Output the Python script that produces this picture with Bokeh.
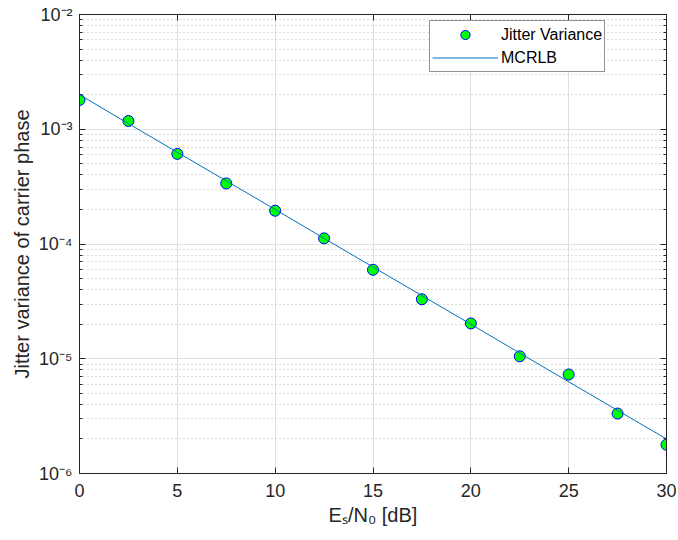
import math
from bokeh.plotting import figure
from bokeh.models import (Range1d, FixedTicker, LinearAxis, LogAxis,
                          Legend, LegendItem, CustomJSTickFormatter)
from bokeh.embed import file_html
from bokeh.resources import INLINE

# ---- data ----
snr_db = [0, 2.5, 5, 7.5, 10, 12.5, 15, 17.5, 20, 22.5, 25, 27.5, 30]
jitter_variance = [1.80e-3, 1.18e-3, 6.1e-4, 3.37e-4, 1.95e-4, 1.12e-4, 5.96e-5,
                   3.30e-5, 2.03e-5, 1.05e-5, 7.29e-6, 3.33e-6, 1.78e-6]
mcrlb = [2.0e-3, 1.12e-3, 6.3e-4, 3.55e-4, 2.0e-4, 1.12e-4, 6.3e-5,
         3.55e-5, 2.0e-5, 1.12e-5, 6.3e-6, 3.55e-6, 2.0e-6]
x_ticks = [0, 5, 10, 15, 20, 25, 30]
y_tick_exponents = [-6, -5, -4, -3, -2]

FONT = "Liberation Sans"
AX = "#262626"

y_major = [10.0 ** e for e in y_tick_exponents]
y_minor = [m * 10.0 ** e for e in y_tick_exponents[:-1] for m in range(2, 10)]

W, H = 678, 540
p = figure(width=W, height=H, x_range=Range1d(0, 30),
           y_range=Range1d(1e-6, 1e-2), y_axis_type="log",
           output_backend="svg", toolbar_location=None,
           min_border_left=79, min_border_right=12, min_border_top=14,
           min_border_bottom=67)
p.background_fill_color = "white"
p.border_fill_color = "white"
p.outline_line_color = AX
p.outline_line_width = 1

xt = FixedTicker(ticks=x_ticks, minor_ticks=[])
yt = FixedTicker(ticks=y_major, minor_ticks=y_minor)
blank = CustomJSTickFormatter(code="return ' '")
pow10 = CustomJSTickFormatter(code="""
const sup = {'-': '\\u207B', '0': '\\u2070', '1': '\\u00B9', '2': '\\u00B2',
             '3': '\\u00B3', '4': '\\u2074', '5': '\\u2075', '6': '\\u2076',
             '7': '\\u2077', '8': '\\u2078', '9': '\\u2079'};
const e = Math.round(Math.log10(tick));
return '10' + String(e).split('').map(c => sup[c]).join('');
""")

# bottom axis
xa = p.xaxis[0]
xa.ticker = xt
xa.axis_line_color = AX
xa.major_tick_line_color = AX
xa.major_tick_in = 6
xa.major_tick_out = 0
xa.minor_tick_line_color = None
xa.major_label_text_font = FONT
xa.major_label_text_font_size = "18px"
xa.major_label_text_color = AX
xa.major_label_standoff = 10
xa.axis_label = "E\u209B/N\u2080 [dB]"
xa.axis_label_text_font = FONT
xa.axis_label_text_font_size = "20px"
xa.axis_label_text_font_style = "normal"
xa.axis_label_text_color = AX
xa.axis_label_standoff = 4

# left axis
ya = p.yaxis[0]
ya.ticker = yt
ya.formatter = pow10
ya.axis_line_color = AX
ya.major_tick_line_color = AX
ya.minor_tick_line_color = AX
ya.major_tick_in = 6
ya.major_tick_out = 0
ya.minor_tick_in = 3
ya.minor_tick_out = 0
ya.major_label_text_font = FONT
ya.major_label_text_font_size = "18px"
ya.major_label_text_color = AX
ya.major_label_standoff = 7
ya.axis_label = "Jitter variance of carrier phase"
ya.axis_label_text_font = FONT
ya.axis_label_text_font_size = "20px"
ya.axis_label_text_font_style = "normal"
ya.axis_label_text_color = AX
ya.axis_label_standoff = 3

# top / right axes for box ticks
top = LinearAxis(ticker=xt, formatter=blank, axis_line_color=AX,
                 major_tick_line_color=AX, major_tick_in=6, major_tick_out=0,
                 minor_tick_line_color=None, major_label_text_font_size="2px",
                 major_label_text_color=None, major_label_standoff=0)
right = LogAxis(ticker=yt, formatter=blank, axis_line_color=AX,
                major_tick_line_color=AX, minor_tick_line_color=AX,
                major_tick_in=6, major_tick_out=0, minor_tick_in=3,
                minor_tick_out=0, major_label_text_font_size="2px",
                major_label_text_color=None, major_label_standoff=0)
p.add_layout(top, "above")
p.add_layout(right, "right")

# grids
p.xgrid.ticker = xt
p.xgrid.grid_line_color = "#e0e0e0"
p.ygrid.ticker = yt
p.ygrid.grid_line_color = "#e0e0e0"
p.ygrid.minor_grid_line_color = "#b8b8b8"
p.ygrid.minor_grid_line_dash = "1 3"

# data
r_pts = p.scatter(snr_db, jitter_variance, size=11, fill_color="#00ff00",
                  line_color="#0000ff", line_width=1)
r_line = p.line(snr_db, mcrlb, line_color="#0072BD", line_width=1)

legend = Legend(items=[LegendItem(label="Jitter Variance", renderers=[r_pts]),
                       LegendItem(label="MCRLB", renderers=[r_line])],
                location=(350, 401), padding=2, spacing=0, glyph_width=66,
                glyph_height=23, label_height=20, label_standoff=3,
                label_text_font=FONT, label_text_font_size="16px",
                label_text_color="black", border_line_color=AX,
                border_line_width=1, background_fill_color="white",
                background_fill_alpha=1.0)
p.add_layout(legend)

open("out.html", "w").write(file_html(p, INLINE))
